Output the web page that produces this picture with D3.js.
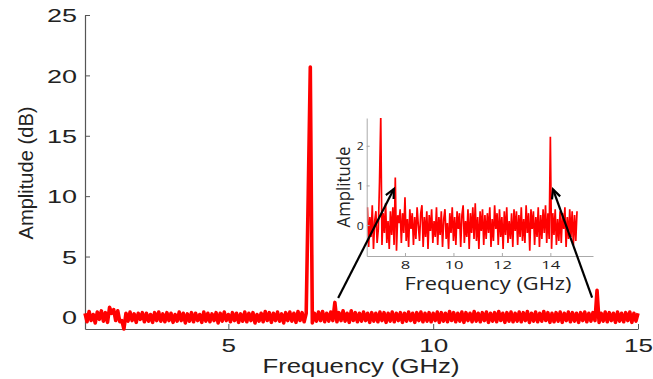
<!DOCTYPE html>
<html>
<head>
<meta charset="utf-8">
<script src="https://cdn.jsdelivr.net/npm/d3@7"></script>
<style>
body { margin: 0; background: #fff; }
</style>
</head>
<body>
<div id="canvas"></div>
<script>
// main spectrum (dB), one sample every 0.05 GHz starting at 1.5 GHz
const mainStartGHz = 1.5;
const mainStepGHz = 0.05;
const mainAmpDb = [
    0.3, -0.4, 0.45, -0.3, 0.2, -0.5, 0.4, -0.2, 0.5, -0.35,
    0.35, -0.45, 0.8, 0.3, 0.6, -0.3, 0.5, -0.4, -0.3, -1.0,
    0.3, -0.35, 0.4, -0.3, 0.25, -0.45, 0.3, -0.2, 0.35, -0.4,
    0.3, -0.35, 0.2, -0.45, 0.35, -0.3, 0.4, -0.35, 0.25, -0.4,
    0.35, -0.3, 0.3, -0.45, 0.2, -0.35, 0.4, -0.3, 0.3, -0.5,
    0.25, -0.35, 0.35, -0.4, 0.3, -0.3, 0.2, -0.45, 0.4, -0.35,
    0.3, -0.4, 0.25, -0.3, 0.35, -0.5, 0.3, -0.35, 0.4, -0.3,
    0.2, -0.4, 0.35, -0.3, 0.3, -0.45, 0.25, -0.35, 0.4, -0.4,
    0.3, -0.3, 0.35, -0.5, 0.2, -0.35, 0.3, -0.4, 0.45, -0.3,
    0.35, -0.45, 0.3, -0.3, 0.4, -0.35, 0.25, -0.5, 0.35, -0.3,
    0.4, -0.35, 0.3, -0.45, 0.45, -0.3, 0.35, -0.4, 0.3, 10.2,
    20.7, -0.5, 0.3, -0.35, 0.4, -0.3, 0.45, -0.4, 0.3, -0.35,
    0.4, -0.3, 1.2, -0.4, 0.35, -0.3, 0.5, -0.35, 0.3, -0.45,
    0.5, -0.3, 0.35, -0.4, 0.3, -0.35, 0.4, -0.3, 0.3, -0.45,
    0.35, -0.35, 0.3, -0.4, 0.4, -0.3, 0.35, -0.45, 0.3, -0.35,
    0.4, -0.4, 0.3, -0.3, 0.35, -0.45, 0.3, -0.35, 0.4, -0.3,
    0.3, -0.45, 0.35, -0.3, 0.4, -0.4, 0.3, -0.35, 0.35, -0.4,
    0.3, -0.3, 0.4, -0.45, 0.35, -0.35, 0.3, -0.4, 0.45, -0.3,
    0.35, -0.4, 0.3, -0.35, 0.4, -0.45, 0.35, -0.3, 0.3, -0.4,
    0.45, -0.35, 0.3, -0.4, 0.35, -0.3, 0.4, -0.45, 0.3, -0.35,
    0.35, -0.4, 0.45, -0.3, 0.3, -0.45, 0.35, -0.35, 0.4, -0.4,
    0.3, -0.35, 0.4, -0.4, 0.35, -0.3, 0.45, -0.45, 0.3, -0.35,
    0.4, -0.4, 0.3, -0.35, 0.45, -0.3, 0.35, -0.45, 0.3, -0.4,
    0.35, -0.35, 0.4, -0.45, 0.3, -0.3, 0.4, -0.4, 0.35, -0.35,
    0.3, -0.45, 0.35, -0.3, 0.4, -0.4, 0.3, -0.35, 0.35, -0.3,
    2.2, -0.45, 0.3, -0.35, 0.4, -0.4, 0.35, -0.3, 0.3, -0.45,
    0.4, -0.35, 0.3, -0.4, 0.35, -0.3, 0.4, -0.45, 0.3, -0.35,
    0.3
];
const mainXTicks = [5, 10, 15];
const mainYTicks = [0, 5, 10, 15, 20, 25];

// inset: linear amplitude, one sample every 0.05 GHz starting at 6.45 GHz
const insetStartGHz = 6.45;
const insetStepGHz = 0.05;
const insetAmp = [
    0.45, -0.55, 0.2, -0.3, 0.5, -0.6, 0.1, 0.35, -0.45, -0.1,
    1.1, 2.75, -0.5, 0.3, -0.2, 0.55, -0.45, 0.1, -0.6, 0.35,
    -0.25, 0.45, -0.5, 1.2, -0.65, 0.25, 0.05, 0.4, -0.45, 0.3,
    -0.2, 0.7, -0.4, 0.15, -0.55, 0.4, -0.1, 0.3, -0.5, 0.2,
    -0.35, 0.45, 0.0, -0.4, 0.3, 0.5, -0.55, 0.2, -0.3, 0.35,
    -0.6, 0.25, -0.15, 0.4, -0.45, 0.1, -0.3, 0.45, -0.5, 0.2,
    -0.25, 0.35, -0.55, 0.15, 0.4, -0.35, 0.05, -0.6, 0.3, -0.2,
    0.45, -0.4, 0.2, -0.5, 0.35, -0.1, 0.3, -0.55, 0.25, 0.5,
    -0.45, 0.1, -0.3, 0.4, -0.6, 0.3, -0.2, 0.45, -0.35, 0.55,
    -0.4, 0.2, -0.6, 0.35, -0.15, 0.4, -0.5, 0.25, -0.35, 0.3,
    -0.2, 0.45, -0.55, 0.15, -0.4, 0.5, -0.1, 0.3, -0.5, 0.4,
    -0.3, 0.2, -0.6, 0.35, -0.25, 0.45, -0.45, 0.1, -0.35, 0.3,
    -0.55, 0.4, -0.15, 0.35, -0.5, 0.25, -0.3, 0.45, -0.4, 0.15,
    -0.45, 0.5, -0.2, 0.3, -0.65, 0.4, -0.1, 0.35, -0.5, 0.2,
    -0.3, 0.45, -0.55, 0.25, -0.35, 0.4, -0.2, 0.5, -0.45, 0.3,
    -0.35, 2.23, -0.6, 0.3, -0.25, 0.4, -0.5, 0.15, -0.4, 0.35,
    -0.45, 0.3, -0.1, 0.45, -0.55, 0.2, -0.35, 0.4, -0.3, 0.35,
    -0.5, 0.25, -0.4, 0.35
];
const insetXTicks = [8, 10, 12, 14];
const insetYTicks = [0, 1, 2];

// arrows from a peak in the main plot (main units) to the inset (inset units)
const arrowFrom = [{f: 7.68, a: 1.56}, {f: 13.88, a: 1.6}];
const arrowTo = [{f: 7.54, a: 0.91}, {f: 14.11, a: 0.9}];

const W = 653, H = 379;
const font = "'Liberation Sans', Arial, sans-serif";
const insetFont = "'Open Sans', 'Noto Sans', sans-serif";

const svg = d3.select("#canvas")
    .append("svg")
    .attr("width", W)
    .attr("height", H);

// main scales
const x = d3.scaleLinear().domain([1.5, 15]).range([85, 638]);
const y = d3.scaleLinear().domain([-1, 25]).range([329, 15]);

// stretch text to a given width (the original image is wider than tall)
function fit(sel, perChar) {
    sel.attr("textLength", function() { return this.textContent.length * perChar; })
        .attr("lengthAdjust", "spacingAndGlyphs");
}

const xAxis = svg.append("g")
    .attr("transform", "translate(0,329)")
    .call(d3.axisBottom(x).tickValues(mainXTicks).tickSizeInner(-5).tickSizeOuter(0));
const yAxis = svg.append("g")
    .attr("transform", "translate(85,0)")
    .call(d3.axisLeft(y).tickValues(mainYTicks).tickSizeInner(-5).tickSizeOuter(0));

[xAxis, yAxis].forEach(function(g) {
    g.select(".domain").attr("stroke", "#555").attr("stroke-width", 1.2);
    g.selectAll(".tick line").attr("stroke", "#555");
    g.selectAll(".tick text")
        .attr("fill", "#222")
        .style("font-family", font)
        .style("font-size", "19px");
});
xAxis.selectAll(".tick text").attr("y", 23).attr("dy", 0).call(fit, 14.5);
yAxis.selectAll(".tick text").attr("x", -8).attr("dy", "0.35em").call(fit, 15);

svg.append("text")
    .attr("text-anchor", "middle")
    .attr("transform", "rotate(-90)")
    .attr("x", -173)
    .attr("y", 33)
    .attr("fill", "#222")
    .style("font-family", font)
    .style("font-size", "20px")
    .attr("textLength", 133)
    .attr("lengthAdjust", "spacingAndGlyphs")
    .text("Amplitude (dB)");

svg.append("text")
    .attr("text-anchor", "middle")
    .attr("x", 361)
    .attr("y", 373)
    .attr("fill", "#222")
    .style("font-family", font)
    .style("font-size", "19.5px")
    .attr("textLength", 197)
    .attr("lengthAdjust", "spacingAndGlyphs")
    .text("Frequency (GHz)");

// main trace
const mainData = mainAmpDb.map((a, i) => ({f: mainStartGHz + i * mainStepGHz, a: a}));

svg.append("path")
    .datum(mainData)
    .attr("fill", "none")
    .attr("stroke", "#ff0000")
    .attr("stroke-width", 3.6)
    .attr("stroke-linejoin", "round")
    .attr("d", d3.line().x(d => x(d.f)).y(d => y(d.a)));

// inset
const xi = d3.scaleLinear().domain([6.42, 15.76]).range([366.7, 593]);
const yi = d3.scaleLinear().domain([-0.78, 2.7]).range([256, 118]);

svg.append("clipPath").attr("id", "insetClip")
    .append("rect")
    .attr("x", 366.7).attr("y", 118)
    .attr("width", 593 - 366.7).attr("height", 256 - 118);

const insetData = insetAmp.map((a, i) => ({f: insetStartGHz + i * insetStepGHz, a: a}));

svg.append("path")
    .datum(insetData)
    .attr("clip-path", "url(#insetClip)")
    .attr("fill", "none")
    .attr("stroke", "#ff0000")
    .attr("stroke-width", 1.7)
    .attr("d", d3.line().x(d => xi(d.f)).y(d => yi(d.a)));

const xiAxis = svg.append("g")
    .attr("transform", "translate(0,256)")
    .call(d3.axisBottom(xi).tickValues(insetXTicks).tickSizeInner(-3).tickSizeOuter(0).tickFormat(d3.format("d")));
const yiAxis = svg.append("g")
    .attr("transform", "translate(366.7,0)")
    .call(d3.axisLeft(yi).tickValues(insetYTicks).tickSizeInner(-3).tickSizeOuter(0).tickFormat(d3.format("d")));

[xiAxis, yiAxis].forEach(function(g) {
    g.select(".domain").attr("stroke", "#aaa");
    g.selectAll(".tick line").attr("stroke", "#aaa");
    g.selectAll(".tick text")
        .attr("fill", "#222")
        .style("font-family", insetFont)
        .style("font-size", "11.5px");
});
xiAxis.selectAll(".tick text").attr("y", 13).attr("dy", 0).call(fit, 9.5);
yiAxis.selectAll(".tick text").attr("x", -3).attr("dy", "0.35em").call(fit, 7);

svg.append("text")
    .attr("text-anchor", "middle")
    .attr("transform", "rotate(-90)")
    .attr("x", -187)
    .attr("y", 350)
    .attr("fill", "#222")
    .style("font-family", insetFont)
    .style("font-size", "18px")
    .attr("textLength", 81)
    .attr("lengthAdjust", "spacingAndGlyphs")
    .text("Amplitude");

svg.append("text")
    .attr("text-anchor", "middle")
    .attr("x", 488)
    .attr("y", 290)
    .attr("fill", "#222")
    .style("font-family", insetFont)
    .style("font-size", "18px")
    .attr("textLength", 167)
    .attr("lengthAdjust", "spacingAndGlyphs")
    .text("Frequency (GHz)");

// arrows
arrowFrom.forEach(function(from, i) {
    const to = arrowTo[i];
    const x0 = x(from.f), y0 = y(from.a);
    const x1 = xi(to.f), y1 = yi(to.a);
    const ang = Math.atan2(y1 - y0, x1 - x0);
    const len = 10, spread = 0.45;
    svg.append("line")
        .attr("x1", x0).attr("y1", y0)
        .attr("x2", x1).attr("y2", y1)
        .attr("stroke", "#000")
        .attr("stroke-width", 2.2);
    svg.append("path")
        .attr("fill", "none")
        .attr("stroke", "#000")
        .attr("stroke-width", 2.2)
        .attr("d", "M" + (x1 - len * Math.cos(ang - spread)) + "," + (y1 - len * Math.sin(ang - spread)) +
            "L" + x1 + "," + y1 +
            "L" + (x1 - len * Math.cos(ang + spread)) + "," + (y1 - len * Math.sin(ang + spread)));
});
</script>
</body>
</html>
